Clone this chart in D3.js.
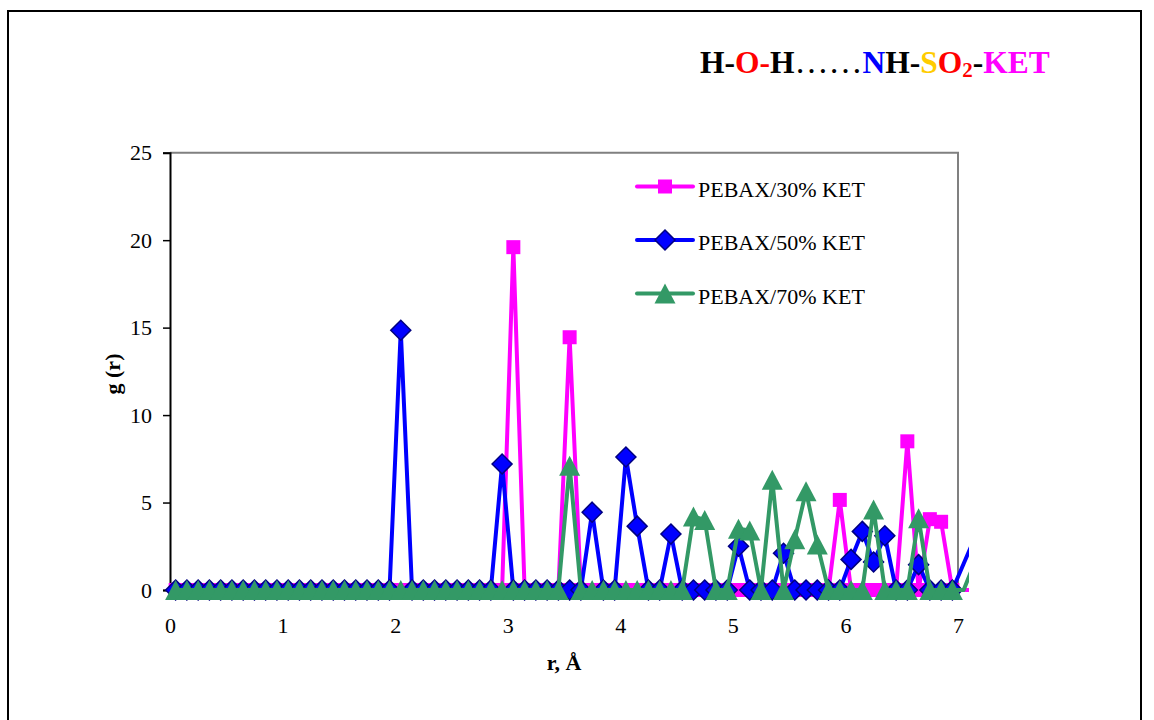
<!DOCTYPE html>
<html>
<head>
<meta charset="utf-8">
<script src="https://cdn.jsdelivr.net/npm/d3@7"></script>
<style>
  body { margin: 0; background: #fff; }
  svg { display: block; }
  text { font-family: "Liberation Serif", "Times New Roman", serif; }
</style>
</head>
<body>
<svg id="chart" width="1154" height="720"></svg>
<script>
// r (Angstrom), bin centres
var rValues = [0.05, 0.15, 0.25, 0.35, 0.45, 0.55, 0.65, 0.75, 0.85, 0.95,
  1.05, 1.15, 1.25, 1.35, 1.45, 1.55, 1.65, 1.75, 1.85, 1.95,
  2.05, 2.15, 2.25, 2.35, 2.45, 2.55, 2.65, 2.75, 2.85, 2.95,
  3.05, 3.15, 3.25, 3.35, 3.45, 3.55, 3.65, 3.75, 3.85, 3.95,
  4.05, 4.15, 4.25, 4.35, 4.45, 4.55, 4.65, 4.75, 4.85, 4.95,
  5.05, 5.15, 5.25, 5.35, 5.45, 5.55, 5.65, 5.75, 5.85, 5.95,
  6.05, 6.15, 6.25, 6.35, 6.45, 6.55, 6.65, 6.75, 6.85, 6.95,
  7.05, 7.15];

// g(r) PEBAX/30% KET
var g30 = [0, 0, 0, 0, 0, 0, 0, 0, 0, 0,
  0, 0, 0, 0, 0, 0, 0, 0, 0, 0,
  0, 0, 0, 0, 0, 0, 0, 0, 0, 0,
  19.6, 0, 0, 0, 0, 14.45, 0, 0, 0, 0,
  0, 0, 0, 0, 0, 0, 0, 0, 0, 0,
  0, 0, 0, 0, 0, 0, 0, 0, 0, 5.15,
  0, 0, 0, 0, 0, 8.5, 0, 4.05, 3.9, 0,
  0, 0];

// g(r) PEBAX/50% KET
var g50 = [0, 0, 0, 0, 0, 0, 0, 0, 0, 0,
  0, 0, 0, 0, 0, 0, 0, 0, 0, 0,
  14.85, 0, 0, 0, 0, 0, 0, 0, 0, 7.2,
  0, 0, 0, 0, 0, 0, 0, 4.45, 0, 0,
  7.6, 3.65, 0, 0, 3.2, 0, 0, 0, 0, 0,
  2.5, 0, 0, 0, 2.1, 0, 0, 0, 0, 0,
  1.75, 3.35, 1.6, 3.1, 0, 0, 1.45, 0, 0, 0,
  1.5, 3.0];

// g(r) PEBAX/70% KET
var g70 = [0, 0, 0, 0, 0, 0, 0, 0, 0, 0,
  0, 0, 0, 0, 0, 0, 0, 0, 0, 0,
  0, 0, 0, 0, 0, 0, 0, 0, 0, 0,
  0, 0, 0, 0, 0, 7.1, 0, 0, 0, 0,
  0, 0, 0, 0, 0, 0, 4.2, 4.0, 0, 0,
  3.5, 3.4, 0, 6.3, 0, 2.9, 5.65, 2.6, 0, 0,
  0, 0, 4.6, 0, 0, 0, 4.1, 0, 0, 0,
  0, 1.6];

var seriesNames = ["PEBAX/30% KET", "PEBAX/50% KET", "PEBAX/70% KET"];
var xTicks = [0, 1, 2, 3, 4, 5, 6, 7];
var yTicks = [0, 5, 10, 15, 20, 25];

var series = [
  {name: seriesNames[0], values: g30, color: "#FF00FF", marker: "square"},
  {name: seriesNames[1], values: g50, color: "#0000FF", marker: "diamond"},
  {name: seriesNames[2], values: g70, color: "#339966", marker: "triangle"}
];

var svg = d3.select("#chart");

var x = d3.scaleLinear().domain([0, 7]).range([170, 958]);
var y = d3.scaleLinear().domain([0, 25]).range([590, 152.7]);

// outer frame
svg.append("rect")
  .attr("x", 8).attr("y", 11)
  .attr("width", 1133).attr("height", 730)
  .attr("fill", "none").attr("stroke", "#000").attr("stroke-width", 2);

// plot area frame (top / right grey)
svg.append("path")
  .attr("d", "M170,152.7H958V590")
  .attr("fill", "none").attr("stroke", "#808080").attr("stroke-width", 2);

// axes (drawn under the series)
var yAxis = svg.append("g")
  .attr("transform", "translate(170,0)")
  .call(d3.axisLeft(y).tickValues(yTicks).tickSize(7).tickPadding(11));
var xAxis = svg.append("g")
  .attr("transform", "translate(0,590)")
  .call(d3.axisBottom(x).tickValues(xTicks).tickFormat(d3.format("d")).tickSize(0).tickPadding(27));

[yAxis, xAxis].forEach(function(a) {
  a.selectAll("path.domain").attr("stroke", "#000").attr("stroke-width", 2);
  a.selectAll("line").attr("stroke", "#000").attr("stroke-width", 1.5);
  a.selectAll("text")
    .style("font-family", "Liberation Serif, Times New Roman, serif")
    .style("font-size", "22px")
    .attr("fill", "#000");
});

// marker shapes
function markerPath(type) {
  if (type == "square") return "M-7,-7H7V7H-7Z";
  if (type == "diamond") return "M0,-10L10,0L0,10L-10,0Z";
  return "M0,-10L10.5,10H-10.5Z";
}
function styleMarker(sel, s) {
  sel.attr("d", markerPath(s.marker))
    .attr("fill", s.color)
    .attr("stroke", s.marker == "diamond" ? "#000080" : "none")
    .attr("stroke-width", 1.5);
}

svg.append("clipPath").attr("id", "clipLine")
  .append("rect").attr("x", 140).attr("y", 0).attr("width", 829).attr("height", 720);

var line = d3.line()
  .x(function(d, i) { return x(rValues[i]); })
  .y(function(d) { return y(d); });

series.forEach(function(s) {
  svg.append("path")
    .attr("clip-path", "url(#clipLine)")
    .attr("d", line(s.values))
    .attr("fill", "none")
    .attr("stroke", s.color)
    .attr("stroke-width", 4)
    .attr("stroke-linejoin", "round");
  // markers only inside the axis range
  var pts = s.values.map(function(v, i) { return {r: rValues[i], v: v}; })
    .filter(function(d) { return d.r <= 7; });
  svg.append("g")
    .selectAll("path")
    .data(pts)
    .enter().append("path")
    .attr("transform", function(d) { return "translate(" + x(d.r) + "," + y(d.v) + ")"; })
    .call(styleMarker, s);
});

// axis titles
svg.append("text")
  .attr("transform", "translate(120,374) rotate(-90)")
  .attr("text-anchor", "middle")
  .style("font-size", "22px").style("font-weight", "bold")
  .text("g (r)");

svg.append("text")
  .attr("x", 564).attr("y", 670)
  .attr("text-anchor", "middle")
  .style("font-size", "22px").style("font-weight", "bold")
  .text("r, Å");

// legend
var legendY = [186.5, 240, 293.5];
series.forEach(function(s, i) {
  var lg = svg.append("g").attr("transform", "translate(0," + legendY[i] + ")");
  lg.append("line")
    .attr("x1", 637).attr("x2", 693).attr("y1", 0).attr("y2", 0)
    .attr("stroke", s.color).attr("stroke-width", 4).attr("stroke-linecap", "round");
  lg.append("path")
    .attr("transform", "translate(665,0)")
    .call(styleMarker, s);
  lg.append("text")
    .attr("x", 698).attr("y", 10)
    .style("font-size", "22px")
    .text(s.name);
});

// title
var titleParts = [
  {t: "H-", c: "#000"},
  {t: "O-", c: "#FF0000"},
  {t: "H", c: "#000"},
  {t: "……", c: "#000", w: "normal", fs: "34px"},
  {t: "N", c: "#0000FF"},
  {t: "H-", c: "#000"},
  {t: "S", c: "#FFCC00"},
  {t: "O", c: "#FF0000"},
  {t: "2", c: "#FF0000", sub: true},
  {t: "-", c: "#000", unsub: true},
  {t: "KET", c: "#FF00FF"}
];
var title = svg.append("text")
  .attr("x", 700).attr("y", 73)
  .style("font-size", "31.5px").style("font-weight", "bold");
titleParts.forEach(function(p) {
  var ts = title.append("tspan").attr("fill", p.c).text(p.t);
  if (p.w) ts.style("font-weight", p.w);
  if (p.fs) ts.style("font-size", p.fs);
  if (p.sub) ts.style("font-size", "21px").attr("dy", 4);
  if (p.unsub) ts.attr("dy", -4);
});
</script>
</body>
</html>
